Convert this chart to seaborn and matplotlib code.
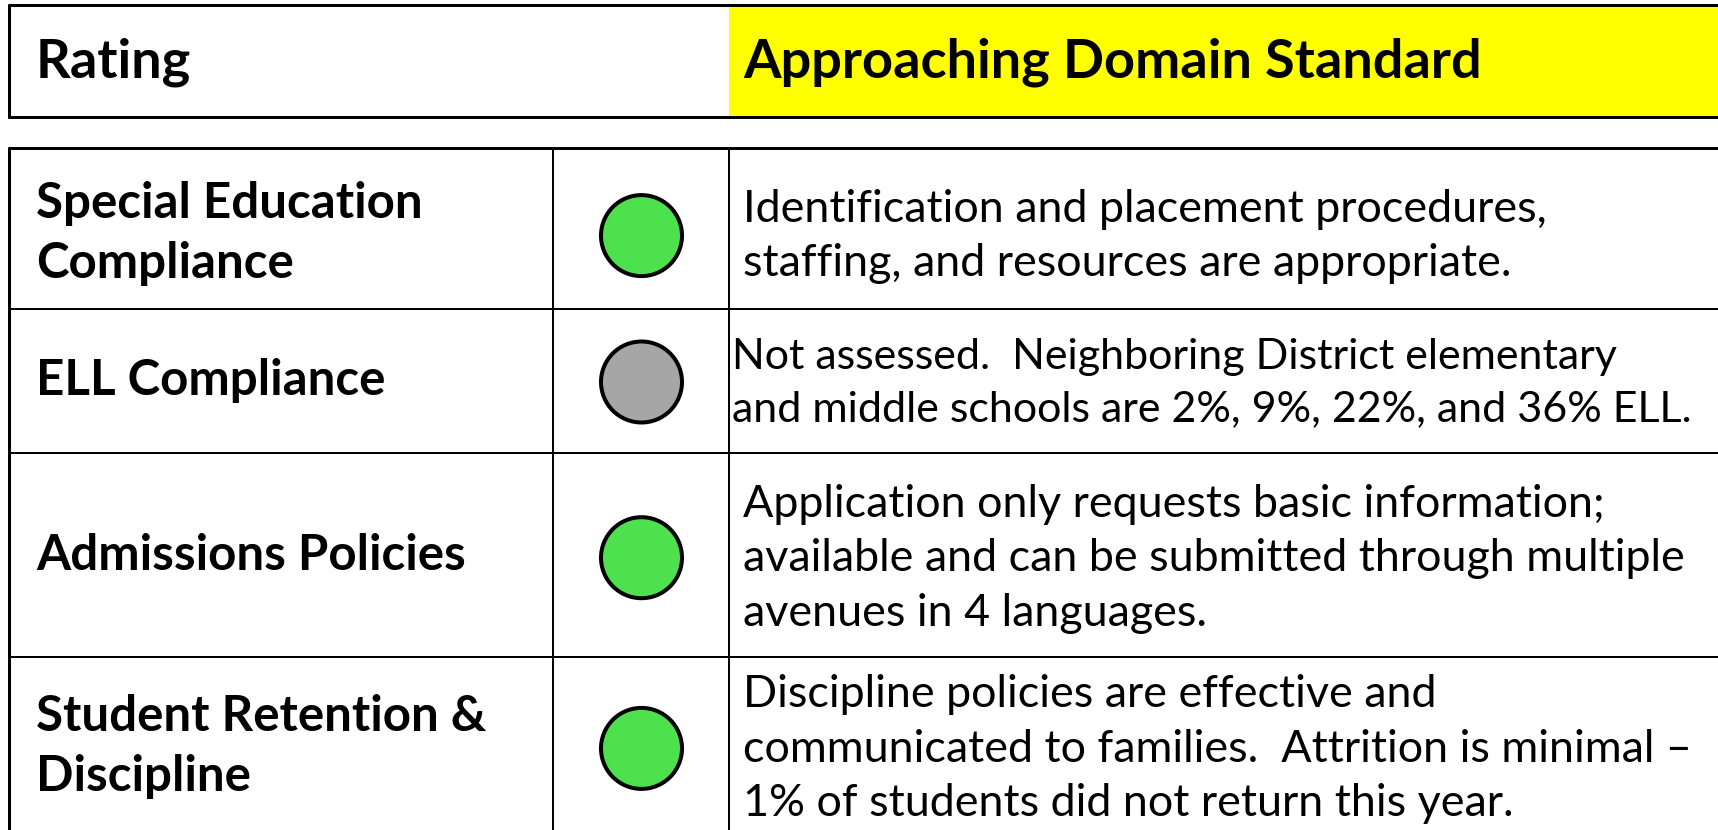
import matplotlib
matplotlib.use("Agg")
import matplotlib.pyplot as plt
import seaborn as sns
import pandas as pd
from matplotlib.patches import Rectangle

# ---- data ----
header_label = "Rating"
header_value = "Approaching Domain Standard"
categories = ["Special Education\nCompliance", "ELL Compliance",
              "Admissions Policies", "Student Retention &\nDiscipline"]
ratings = ["Meets", "Not assessed", "Meets", "Meets"]
descriptions = [
    "Identification and placement procedures,\nstaffing, and resources are appropriate.",
    "Not assessed.  Neighboring District elementary\nand middle schools are 2%, 9%, 22%, and 36% ELL.",
    "Application only requests basic information;\navailable and can be submitted through multiple\navenues in 4 languages.",
    "Discipline policies are effective and\ncommunicated to families.  Attrition is minimal \u2013\n1% of students did not return this year.",
]
palette = {"Meets": "#4DE14D", "Not assessed": "#A6A6A6"}

# ---- layout (pixels) ----
W, H = 1718, 830
sns.set_theme(style="white")
plt.rcParams["font.family"] = ["Lato", "DejaVu Sans"]
plt.rcParams["text.color"] = "black"

fig = plt.figure(figsize=(W / 100, H / 100), dpi=100)
ax = fig.add_axes([0, 0, 1, 1])
ax.set_xlim(0, W)
ax.set_ylim(H, 0)
ax.axis("off")

px = 0.72  # points per pixel
# header
hdr_top, hdr_bot, left = 5.5, 117, 9
col1, col2 = 553, 729
ax.add_patch(Rectangle((col2, hdr_top), W - col2 + 10, hdr_bot - hdr_top,
                       facecolor="#FFFF00", edgecolor="none", zorder=1))
ax.plot([left, W + 5], [hdr_top, hdr_top], color="black", lw=3 * px, zorder=3)
ax.plot([left, W + 5], [hdr_bot, hdr_bot], color="black", lw=3 * px, zorder=3)
ax.plot([left, left], [hdr_top, hdr_bot], color="black", lw=3 * px, zorder=3)
hdr_mid = (hdr_top + hdr_bot) / 2 + 1
ax.text(36, hdr_mid, header_label, fontsize=39, fontweight="bold", va="center", ha="left",
        color="black")
ax.text(743, hdr_mid, header_value, fontsize=39, fontweight="bold", va="center", ha="left",
        color="black")

# table grid
tbl_top = 148
row_edges = [tbl_top, 309, 452.5, 657, H + 5]
ax.plot([left, W + 5], [tbl_top, tbl_top], color="black", lw=3 * px, zorder=3)
for y in row_edges[1:-1]:
    ax.plot([left, W + 5], [y, y], color="black", lw=2 * px, zorder=3)
ax.plot([left, left], [tbl_top, H + 5], color="black", lw=3 * px, zorder=3)
for x in (col1, col2):
    ax.plot([x, x], [tbl_top, H + 5], color="black", lw=2 * px, zorder=3)

row_centers = [235.6, 382.0, 557.7, 748.4]
desc_x = [743, 732, 743, 743]
desc_size = [32.3, 31.0, 32.3, 32.3]
desc_spacing = [1.41, 1.47, 1.41, 1.41]

df = pd.DataFrame({"category": categories, "rating": ratings,
                   "x": [(col1 + col2) / 2 + 0.5] * len(categories), "y": row_centers})
sns.scatterplot(data=df, x="x", y="y", hue="rating", palette=palette, s=(81 * px) ** 2,
                edgecolor="black", linewidth=4 * px, legend=False, ax=ax, zorder=4)
ax.set_xlim(0, W)
ax.set_ylim(H, 0)
ax.set_xlabel("")
ax.set_ylabel("")

for cat, yc, d, dx, fs, ls in zip(categories, row_centers, descriptions, desc_x,
                                  desc_size, desc_spacing):
    ax.text(36, yc - 2, cat, fontsize=35.5, fontweight="bold", va="center", ha="left",
            linespacing=1.42, color="black")
    ax.text(dx, yc + 1, d, fontsize=fs, va="center", ha="left", linespacing=ls,
            color="black")

fig.savefig("out.png", dpi=100)
